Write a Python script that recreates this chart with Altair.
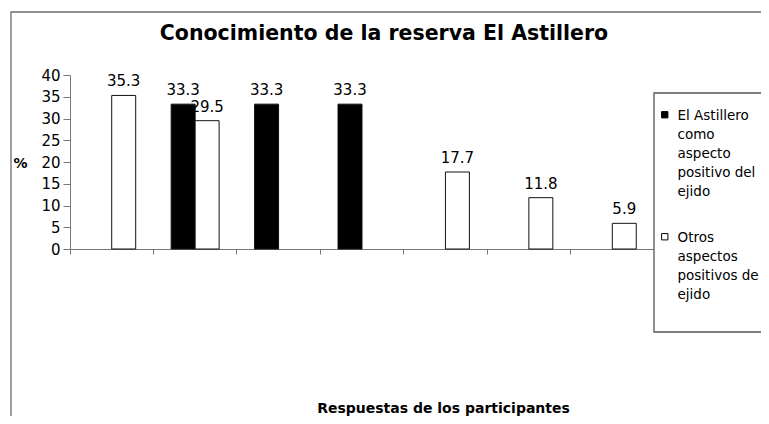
import altair as alt
import pandas as pd

# ---- data ----
categories = ["Respuesta 1", "Respuesta 2", "Respuesta 3", "Respuesta 4",
              "Respuesta 5", "Respuesta 6", "Respuesta 7"]
series_names = ["El Astillero como aspecto positivo del ejido",
                "Otros aspectos positivos de ejido"]
astillero = [None, 33.3, 33.3, 33.3, None, None, None]
otros = [35.3, 29.5, None, None, 17.7, 11.8, 5.9]
y_ticks = [0, 5, 10, 15, 20, 25, 30, 35, 40]
legend_lines = [["El Astillero", "como", "aspecto", "positivo del", "ejido"],
                ["Otros", "aspectos", "positivos de", "ejido"]]

rows = []
for c, a, o in zip(categories, astillero, otros):
    if a is not None:
        rows.append({"cat": c, "serie": series_names[0], "pct": a})
    if o is not None:
        rows.append({"cat": c, "serie": series_names[1], "pct": o})
df = pd.DataFrame(rows)

FONT = "DejaVu Sans"
W, H = 584, 174

def arr(lines):
    return "[" + ",".join("'" + s + "'" for s in lines) + "]"

label_expr = ("datum.label == '" + series_names[0] + "' ? " + arr(legend_lines[0])
              + " : " + arr(legend_lines[1]))

x_enc = alt.X("cat:N", sort=categories,
              scale=alt.Scale(domain=categories, paddingInner=0, paddingOuter=0),
              axis=alt.Axis(labels=False, ticks=True, bandPosition=0, tickSize=5,
                            domainColor="#777", tickColor="#777",
                            title="Respuestas de los participantes",
                            titleFont=FONT, titleFontSize=14, titleFontWeight="bold",
                            titleColor="black", titleX=373, titleY=163,
                            titleAlign="center", titleBaseline="alphabetic"))
xoff_enc = alt.XOffset("serie:N",
                       scale=alt.Scale(domain=series_names, paddingInner=0, paddingOuter=0.74))
y_enc = alt.Y("pct:Q", scale=alt.Scale(domain=[0, 40], nice=False),
              axis=alt.Axis(values=y_ticks, tickCount=9, grid=False, tickSize=7,
                            labelPadding=3,
                            labelOverlap=False, labelFlush=False, labelOffset=6,
                            labelFont=FONT, labelFontSize=15, labelColor="black",
                            domainColor="#777", tickColor="#777",
                            title="%", titleAngle=0, titleFont=FONT, titleFontSize=14,
                            titleFontWeight="bold", titleColor="black",
                            titleX=-50, titleY=88, titleAlign="center",
                            titleBaseline="middle"))
color_enc = alt.Color("serie:N",
                      scale=alt.Scale(domain=series_names, range=["#000000", "#ffffff"]),
                      legend=alt.Legend(orient="none", legendX=588, legendY=33, title=None,
                                        symbolType="square", symbolSize=40,
                                        symbolStrokeColor="black", symbolStrokeWidth=1,
                                        labelFont=FONT, labelFontSize=13.5, labelColor="black",
                                        labelExpr=label_expr, labelLimit=0,
                                        labelBaseline="top", labelOffset=6,
                                        rowPadding=31, padding=0))

one = pd.DataFrame({"k": [0]})
frame = alt.Chart(one).mark_rect(fill="transparent", stroke="#6e6e6e", strokeWidth=1.3).encode(
    x=alt.value(-59), x2=alt.value(900), y=alt.value(-63), y2=alt.value(600))
legend_box = alt.Chart(one).mark_rect(fill="white", stroke="#555", strokeWidth=1.3).encode(
    x=alt.value(584), x2=alt.value(900), y=alt.value(18), y2=alt.value(257))

bars = alt.Chart(df).mark_bar(stroke="#111", strokeWidth=1).encode(
    x=x_enc, xOffset=xoff_enc, y=y_enc, color=color_enc)
labels = alt.Chart(df).mark_text(baseline="alphabetic", dy=-9, font=FONT, fontSize=15,
                                 color="black").encode(
    x=x_enc, xOffset=xoff_enc, y=y_enc, text=alt.Text("pct:Q", format=".1f"))

chart = alt.layer(frame, legend_box, bars, labels).properties(
    width=W, height=H,
    padding={"left": 62, "top": 67, "right": 107, "bottom": 167},
    autosize=alt.AutoSizeParams(type="none"),
    title=alt.TitleParams("Conocimiento de la reserva El Astillero", font=FONT,
                          fontSize=20.5, fontWeight="bold", color="black",
                          anchor="middle", baseline="alphabetic", dx=22, dy=49, offset=0),
).configure(
    view=alt.ViewConfig(stroke="transparent", strokeWidth=0),
    style={"guide-label": {"lineHeight": 19, "dy": -6},
           "cell": {"stroke": "transparent", "strokeWidth": 0}})

chart.save("out.html", embed_options={"renderer": "svg", "actions": False})
